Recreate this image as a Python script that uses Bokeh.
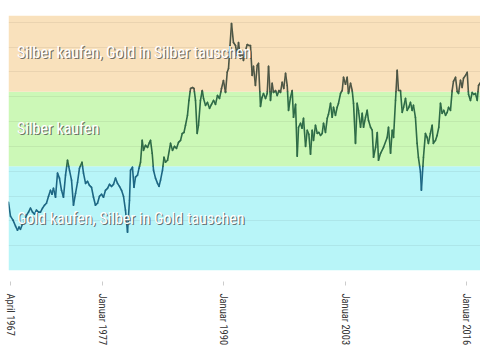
import numpy as np
from bokeh.plotting import figure
from bokeh.models import BoxAnnotation, Label, FixedTicker, Range1d
from bokeh.embed import file_html
from bokeh.resources import INLINE

# ---- data (gold/silver ratio) ----
years = [
    1967.00, 1967.21, 1967.48, 1967.75, 1967.96, 1968.12, 1968.28, 1968.50, 1968.71, 1968.93,
    1969.14, 1969.35, 1969.57, 1969.78, 1969.99, 1970.21, 1970.42, 1970.64, 1970.85, 1971.06,
    1971.28, 1971.49, 1971.65, 1971.81, 1972.03, 1972.24, 1972.45, 1972.67, 1972.88, 1973.10,
    1973.31, 1973.52, 1973.74, 1973.95, 1974.17, 1974.38, 1974.59, 1974.86, 1975.02, 1975.24,
    1975.45, 1975.66, 1975.88, 1976.09, 1976.30, 1976.52, 1976.73, 1976.95, 1977.16, 1977.37,
    1977.59, 1977.80, 1978.02, 1978.23, 1978.44, 1978.66, 1978.87, 1979.09, 1979.30, 1979.51,
    1979.73, 1979.94, 1980.05, 1980.26, 1980.42, 1980.58, 1980.80, 1980.96, 1981.12, 1981.30,
    1981.44, 1981.65, 1981.87, 1982.08, 1982.19, 1982.37, 1982.51, 1982.72, 1982.94, 1983.10,
    1983.26, 1983.47, 1983.63, 1983.79, 1984.01, 1984.33, 1984.54, 1984.75, 1984.97, 1985.18,
    1985.40, 1985.58, 1985.77, 1985.93, 1986.14, 1986.30, 1986.47, 1986.68, 1986.84, 1987.00,
    1987.18, 1987.32, 1987.53, 1987.72, 1987.86, 1988.07, 1988.28, 1988.50, 1988.71, 1988.93,
    1989.14, 1989.35, 1989.57, 1989.78, 1989.99, 1990.21, 1990.39, 1990.53, 1990.69, 1990.85,
    1991.06, 1991.28, 1991.46, 1991.60, 1991.81, 1991.97, 1992.13, 1992.29, 1992.53, 1992.72,
    1992.88, 1993.06, 1993.20, 1993.41, 1993.60, 1993.74, 1993.95, 1994.11, 1994.27, 1994.49,
    1994.67, 1994.81, 1995.02, 1995.20, 1995.34, 1995.56, 1995.74, 1995.93, 1996.09, 1996.27,
    1996.44, 1996.63, 1996.81, 1996.95, 1997.16, 1997.34, 1997.48, 1997.70, 1997.88, 1998.02,
    1998.23, 1998.39, 1998.55, 1998.77, 1998.95, 1999.12, 1999.30, 1999.48, 1999.62, 1999.83,
    2000.02, 2000.19, 2000.37, 2000.55, 2000.69, 2000.90, 2001.09, 2001.22, 2001.44, 2001.62,
    2001.76, 2001.97, 2002.15, 2002.29, 2002.51, 2002.69, 2002.83, 2003.04, 2003.22, 2003.36,
    2003.58, 2003.76, 2003.90, 2004.11, 2004.29, 2004.43, 2004.65, 2004.83, 2004.97, 2005.18,
    2005.36, 2005.50, 2005.72, 2005.90, 2006.04, 2006.26, 2006.44, 2006.57, 2006.79, 2007.11,
    2007.50, 2007.64, 2007.86, 2008.04, 2008.18, 2008.39, 2008.57, 2008.71, 2008.92, 2009.11,
    2009.25, 2009.46, 2009.64, 2009.81, 2009.99, 2010.17, 2010.31, 2010.52, 2010.70, 2010.84,
    2011.06, 2011.16, 2011.38, 2011.59, 2011.77, 2011.91, 2012.12, 2012.31, 2012.44, 2012.66,
    2012.84, 2013.02, 2013.20, 2013.38, 2013.55, 2013.74, 2013.92, 2014.06, 2014.27, 2014.45,
    2014.59, 2014.81, 2014.99, 2015.13, 2015.34, 2015.52, 2015.66, 2015.88, 2016.06, 2016.20,
    2016.41, 2016.59, 2016.76, 2016.94, 2017.13, 2017.27, 2017.48,
]

ratio = [
    27.5, 21.9, 20.3, 17.9, 16.2, 17.5, 16.6, 18.7, 19.5, 22.3,
    23.5, 25.1, 23.5, 22.7, 24.3, 23.5, 23.5, 25.1, 26.3, 27.1,
    29.9, 32.3, 30.7, 33.1, 29.5, 39.2, 37.2, 32.3, 29.5, 38.4,
    44.4, 40.4, 36.4, 26.3, 31.1, 35.5, 41.2, 43.6, 39.2, 35.1,
    35.9, 34.3, 33.5, 29.5, 26.3, 27.1, 29.9, 30.7, 29.5, 32.3,
    33.1, 34.7, 33.9, 34.7, 37.2, 35.1, 33.9, 32.3, 29.9, 24.3,
    15.4, 28.3, 40.4, 41.6, 33.5, 37.6, 38.4, 41.2, 43.6, 52.4,
    48.4, 50.4, 49.6, 51.6, 52.4, 47.2, 40.4, 37.2, 35.1, 33.9,
    36.4, 40.4, 45.6, 43.6, 44.4, 51.2, 48.4, 50.0, 49.2, 51.6,
    52.4, 55.2, 55.6, 58.5, 62.5, 68.5, 73.3, 73.7, 73.3, 68.5,
    55.2, 58.5, 68.5, 72.5, 69.3, 66.5, 67.7, 65.3, 66.9, 68.5,
    66.9, 70.5, 69.3, 73.3, 76.5, 71.7, 79.8, 81.4, 90.6, 99.5,
    91.8, 90.6, 86.6, 91.8, 85.4, 88.6, 84.6, 87.8, 91.0, 90.6,
    90.6, 78.6, 82.2, 74.5, 82.6, 83.4, 66.1, 69.7, 71.3, 69.3,
    71.3, 82.2, 68.5, 75.4, 71.7, 72.5, 70.5, 72.5, 71.7, 75.8,
    73.3, 79.4, 74.5, 64.5, 69.7, 72.5, 61.7, 66.9, 46.0, 57.7,
    59.3, 57.3, 61.3, 50.0, 56.5, 54.9, 46.8, 56.5, 52.4, 58.5,
    55.2, 55.6, 54.4, 55.2, 59.3, 55.6, 61.3, 62.9, 67.3, 61.7,
    65.7, 62.5, 65.7, 67.3, 71.3, 72.5, 77.8, 75.0, 77.8, 71.3,
    75.4, 72.5, 67.3, 51.2, 67.3, 64.5, 57.7, 63.3, 57.7, 61.7,
    64.5, 60.5, 57.7, 56.5, 45.6, 49.6, 55.6, 44.4, 47.2, 49.6,
    53.6, 57.7, 47.2, 56.5, 53.6, 68.5, 80.6, 72.5, 72.5, 63.7,
    65.7, 69.3, 64.5, 65.7, 67.7, 64.5, 66.5, 61.7, 51.2, 45.6,
    39.6, 32.3, 45.6, 55.2, 53.6, 51.2, 55.2, 58.5, 51.2, 52.4,
    54.4, 57.7, 67.3, 63.3, 64.5, 62.5, 63.7, 65.7, 64.5, 72.5,
    76.2, 77.8, 72.1, 71.3, 76.6, 73.7, 77.4, 78.6, 79.8, 70.9,
    68.5, 71.7, 70.9, 71.3, 68.5, 74.5, 75.8,
]

tick_years = [1967.25, 1977.0, 1990.0, 2003.0, 2016.0]
tick_labels = ["April 1967", "Januar 1977", "Januar 1990", "Januar 2003", "Januar 2016"]

zone_limits = [42, 72]
zone_names = [
    "Gold kaufen, Silber in Gold tauschen",
    "Silber kaufen",
    "Silber kaufen, Gold in Silber tauschen",
]
grid_values = [10, 20, 30, 40, 50, 60, 70, 80, 90, 100]

# ---- styles ----
band_colors = ["#b8f5f8", "#ccf8b7", "#f9e1bc"]
line_colors = ["#1d6784", "#2e6b47", "#4d5645"]
FONT = "Roboto Condensed"

p = figure(
    width=480, height=360,
    x_range=Range1d(1967.0, 2017.48), y_range=Range1d(0, 102.7),
    output_backend="svg", toolbar_location=None,
    min_border_left=8, min_border_right=0, min_border_top=15, min_border_bottom=90,
)
p.outline_line_color = None
p.background_fill_color = "white"
p.border_fill_color = "white"

# bands
bounds = [None] + zone_limits + [None]
for i, c in enumerate(band_colors):
    kw = {}
    if bounds[i] is not None:
        kw["bottom"] = bounds[i]
    if bounds[i + 1] is not None:
        kw["top"] = bounds[i + 1]
    p.add_layout(BoxAnnotation(fill_color=c, fill_alpha=1, line_color=None, level="underlay", **kw))

# grid
p.xgrid.visible = False
p.ygrid.ticker = FixedTicker(ticks=grid_values)
p.ygrid.grid_line_color = "black"
p.ygrid.grid_line_alpha = 0.06
p.ygrid.level = "glyph"

p.yaxis.visible = False

# line split into zone-coloured pieces
def zone_of(v):
    z = 0
    for lim in zone_limits:
        if v >= lim:
            z += 1
    return z

x0, y0, x1, y1, cols = [], [], [], [], []
for i in range(len(years) - 1):
    xa, ya, xb, yb = years[i], ratio[i], years[i + 1], ratio[i + 1]
    pts = [(0.0, xa, ya), (1.0, xb, yb)]
    for lim in zone_limits:
        if (ya - lim) * (yb - lim) < 0:
            t = (lim - ya) / (yb - ya)
            pts.append((t, xa + t * (xb - xa), lim))
    pts.sort()
    for a, b in zip(pts[:-1], pts[1:]):
        x0.append(a[1]); y0.append(a[2]); x1.append(b[1]); y1.append(b[2])
        cols.append(line_colors[zone_of((a[2] + b[2]) / 2)])

p.segment(x0=x0, y0=y0, x1=x1, y1=y1, line_color=cols, line_width=1.6, line_cap="round")

# zone labels with shadow
label_pos = [(1967.9, 21.1), (1967.9, 57.2), (1967.9, 87.8)]
for (lx, ly), txt in zip(label_pos, zone_names):
    for dx, dy, col, alpha in [(1.2, -1.2, "#505050", 0.8), (0, 0, "white", 1.0)]:
        p.add_layout(Label(x=lx, y=ly, text=txt, x_offset=dx, y_offset=dy,
                           text_color=col, text_alpha=alpha, text_font=FONT,
                           text_font_size="16px", text_baseline="middle", text_align="left"))

# x axis
ax = p.xaxis[0]
ax.ticker = FixedTicker(ticks=tick_years)
ax.major_label_overrides = {t: l for t, l in zip(tick_years, tick_labels)}
ax.axis_line_color = None
ax.minor_tick_line_color = None
ax.major_tick_line_color = "#cccccc"
ax.major_tick_in = -11
ax.major_tick_out = 15
ax.major_label_orientation = "vertical"
ax.major_label_standoff = 8
ax.major_label_text_font = FONT
ax.major_label_text_font_size = "10.5px"
ax.major_label_text_color = "#333333"

open("out.html", "w").write(file_html(p, INLINE))
